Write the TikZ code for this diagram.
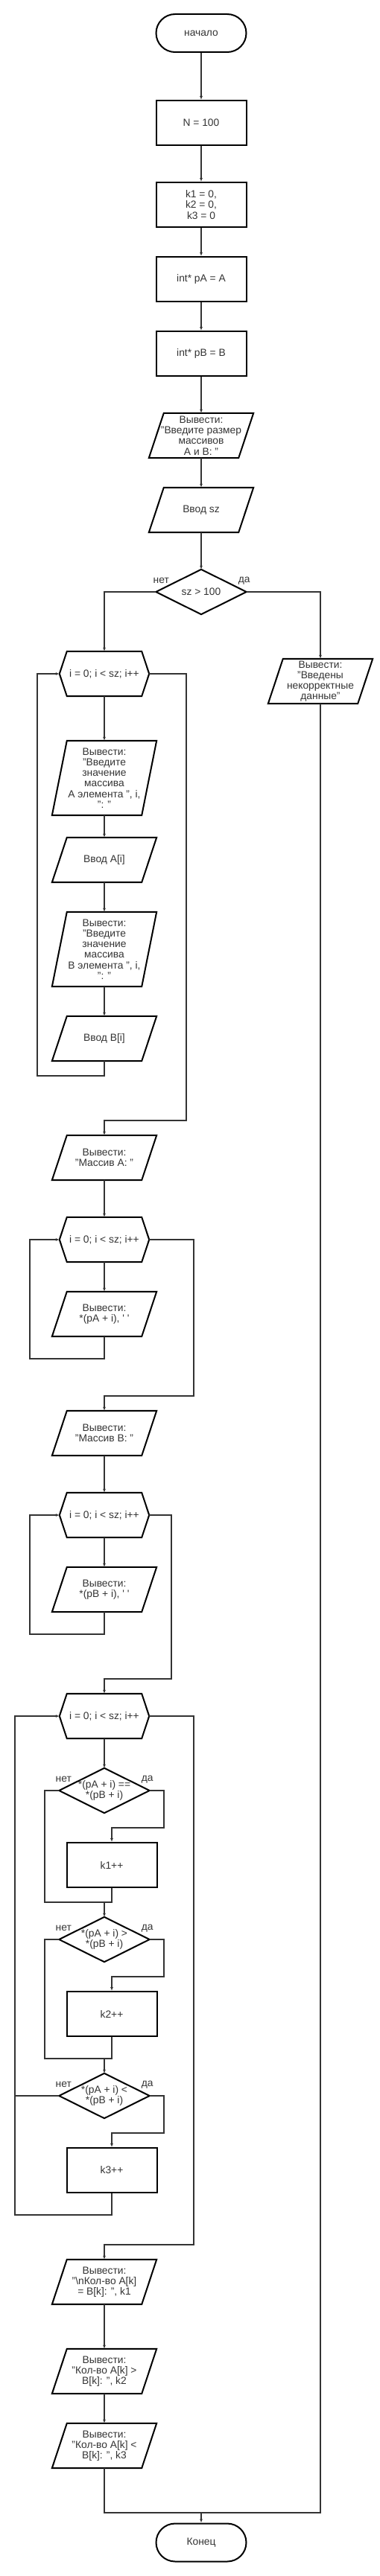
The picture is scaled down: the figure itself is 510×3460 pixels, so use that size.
\documentclass[tikz,border=0pt]{standalone}
\usepackage{fontspec}
\setmainfont{Liberation Sans}
\usetikzlibrary{shapes.misc, arrows.meta}
\definecolor{ink}{HTML}{333333}

\tikzset{
	box/.style = {font=\fontsize{13.8pt}{14.2pt}\selectfont, text=ink, align=center,
		inner sep=0pt, minimum width=120pt, minimum height=60pt},
	outline/.style = {draw=black, line width=2pt},
	term/.style = {box, outline, rounded rectangle, minimum width=121pt, minimum height=51pt},
	proc/.style = {box, outline, rectangle, minimum width=121pt},
	io/.style = {box, append after command={\pgfextra{
		\draw[outline] ([xshift=10pt]\tikzlastnode.north west) -- ([xshift=10pt]\tikzlastnode.north east)
			-- ([xshift=-10pt]\tikzlastnode.south east) -- ([xshift=-10pt]\tikzlastnode.south west) -- cycle;}}},
	hexa/.style = {box, append after command={\pgfextra{
		\draw[outline] (\tikzlastnode.west) -- ([xshift=10pt]\tikzlastnode.north west)
			-- ([xshift=-10pt]\tikzlastnode.north east) -- (\tikzlastnode.east)
			-- ([xshift=-10pt]\tikzlastnode.south east) -- ([xshift=10pt]\tikzlastnode.south west) -- cycle;}}},
	cond/.style = {box, minimum width=121pt, append after command={\pgfextra{
		\draw[outline] (\tikzlastnode.north) -- (\tikzlastnode.east)
			-- (\tikzlastnode.south) -- (\tikzlastnode.west) -- cycle;}}},
	wire/.style = {draw=ink, line width=1.4pt},
	arr/.style = {wire, -{Latex[length=5pt, width=4pt]}},
	tag/.style = {font=\fontsize{13.8pt}{14.2pt}\selectfont, text=ink, inner sep=0pt}
}

\begin{document}
\begin{tikzpicture}[x = 1pt, y = -1pt]
	\useasboundingbox (0,0) rectangle (510,3460);

	\node[term] (start) at (270,44.5) {начало};
	\node[proc] (N) at (270,165) {N = 100};
	\node[proc] (kinit) at (270,275) {k1 = 0,\\ k2 = 0,\\ k3 = 0};
	\node[proc] (pA) at (270,375) {int* pA = A};
	\node[proc] (pB) at (270,475) {int* pB = B};
	\node[io] (askSz) at (270,585) {Вывести:\\"Введите размер\\массивов\\A и B: "};
	\node[io] (inSz) at (270,685) {Ввод sz};
	\node[cond] (chk) at (270,795) {sz > 100};
	\node[io] (err) at (430,915) {Вывести:\\"Введены\\некорректные\\данные"};

	\node[hexa] (loopA) at (140,905) {i = 0; i < sz; i++};
	\node[io, minimum height=100pt] (askA) at (140,1045) {Вывести:\\"Введите\\значение\\массива\\A элемента ", i,\\": "};
	\node[io] (inA) at (140,1155) {Ввод A[i]};
	\node[io, minimum height=100pt] (askB) at (140,1275) {Вывести:\\"Введите\\значение\\массива\\B элемента ", i,\\": "};
	\node[io] (inB) at (140,1395) {Ввод B[i]};

	\node[io] (hdrA) at (140,1555) {Вывести:\\"Массив A: "};
	\node[hexa] (loopPA) at (140,1665) {i = 0; i < sz; i++};
	\node[io] (outPA) at (140,1765) {Вывести:\\*(pA + i), \textquotesingle\ \textquotesingle};
	\node[io] (hdrB) at (140,1925) {Вывести:\\"Массив B: "};
	\node[hexa] (loopPB) at (140,2035) {i = 0; i < sz; i++};
	\node[io] (outPB) at (140,2135) {Вывести:\\*(pB + i), \textquotesingle\ \textquotesingle};

	\node[hexa] (loopC) at (140,2305) {i = 0; i < sz; i++};
	\node[cond] (eq) at (140,2405) {*(pA + i) ==\\*(pB + i)};
	\node[proc] (k1) at (150,2505) {k1++};
	\node[cond] (gt) at (140,2605) {*(pA + i) >\\*(pB + i)};
	\node[proc] (k2) at (150,2705) {k2++};
	\node[cond] (lt) at (140,2815) {*(pA + i) <\\*(pB + i)};
	\node[proc] (k3) at (150,2915) {k3++};

	\node[io] (resEq) at (140,3065) {Вывести:\\"\textbackslash nКол-во A[k]\\= B[k]: ", k1};
	\node[io] (resGt) at (140,3185) {Вывести:\\"Кол-во A[k] >\\B[k]: ", k2};
	\node[io] (resLt) at (140,3285) {Вывести:\\"Кол-во A[k] <\\B[k]: ", k3};
	\node[term] (stop) at (270,3415) {Конец};

	\node[tag] (chkNo) at ([xshift=7pt, yshift=15pt]chk.west) {нет};
	\node[tag] (chkYes) at ([xshift=-3pt, yshift=15pt]chk.east) {да};
	\node[tag] (eqNo) at ([xshift=6pt, yshift=15pt]eq.west) {нет};
	\node[tag] (eqYes) at ([xshift=-3pt, yshift=15pt]eq.east) {да};
	\node[tag] (gtNo) at ([xshift=6pt, yshift=15pt]gt.west) {нет};
	\node[tag] (gtYes) at ([xshift=-3pt, yshift=15pt]gt.east) {да};
	\node[tag] (ltNo) at ([xshift=6pt, yshift=15pt]lt.west) {нет};
	\node[tag] (ltYes) at ([xshift=-3pt, yshift=15pt]lt.east) {да};

	\coordinate (backA) at (50,1445);
	\coordinate (exitA) at (250,1505);
	\coordinate (backPA) at (40,1825);
	\coordinate (exitPA) at (260,1875);
	\coordinate (backPB) at (40,2195);
	\coordinate (exitPB) at (230,2255);
	\coordinate (eqTurn) at (220,2455);
	\coordinate (eqJoin) at (60,2555);
	\coordinate (gtTurn) at (220,2655);
	\coordinate (gtJoin) at (60,2765);
	\coordinate (ltTurn) at (220,2865);
	\coordinate (backC) at (20,2975);
	\coordinate (exitC) at (260,3015);
	\coordinate (merge) at (270,3375);

	\draw[arr] (start.south) -- (N.north);
	\draw[arr] (N.south) -- (kinit.north);
	\draw[arr] (kinit.south) -- (pA.north);
	\draw[arr] (pA.south) -- (pB.north);
	\draw[arr] (pB.south) -- (askSz.north);
	\draw[arr] (askSz.south) -- (inSz.north);
	\draw[arr] (inSz.south) -- (chk.north);
	\draw[arr] (chk.west) -| (loopA.north);
	\draw[arr] (chk.east) -| (err.north);

	\draw[arr] (loopA.south) -- (askA.north);
	\draw[arr] (askA.south) -- (inA.north);
	\draw[arr] (inA.south) -- (askB.north);
	\draw[arr] (askB.south) -- (inB.north);
	\draw[arr] (inB.south) |- (backA) |- (loopA.west);
	\draw[arr] (loopA.east) -| (exitA) -| (hdrA.north);

	\draw[arr] (hdrA.south) -- (loopPA.north);
	\draw[arr] (loopPA.south) -- (outPA.north);
	\draw[arr] (outPA.south) |- (backPA) |- (loopPA.west);
	\draw[arr] (loopPA.east) -| (exitPA) -| (hdrB.north);
	\draw[arr] (hdrB.south) -- (loopPB.north);
	\draw[arr] (loopPB.south) -- (outPB.north);
	\draw[arr] (outPB.south) |- (backPB) |- (loopPB.west);
	\draw[arr] (loopPB.east) -| (exitPB) -| (loopC.north);

	\draw[arr] (loopC.south) -- (eq.north);
	\draw[arr] (eq.east) -| (eqTurn) -| (k1.north);
	\draw[wire] (eq.west) -| (eqJoin) -- (k1.south |- eqJoin) -- (k1.south);
	\draw[arr] (eq.south |- eqJoin) -- (gt.north);
	\draw[arr] (gt.east) -| (gtTurn) -| (k2.north);
	\draw[wire] (gt.west) -| (gtJoin) -- (k2.south |- gtJoin) -- (k2.south);
	\draw[arr] (gt.south |- gtJoin) -- (lt.north);
	\draw[arr] (lt.east) -| (ltTurn) -| (k3.north);
	\draw[wire] (lt.west) -- (lt.west -| backC);
	\draw[arr] (k3.south) |- (backC) |- (loopC.west);
	\draw[arr] (loopC.east) -| (exitC) -| (resEq.north);

	\draw[arr] (resEq.south) -- (resGt.north);
	\draw[arr] (resGt.south) -- (resLt.north);
	\draw[wire] (resLt.south) |- (merge) -| (err.south);
	\draw[arr] (merge) -- (stop.north);
\end{tikzpicture}
\end{document}
